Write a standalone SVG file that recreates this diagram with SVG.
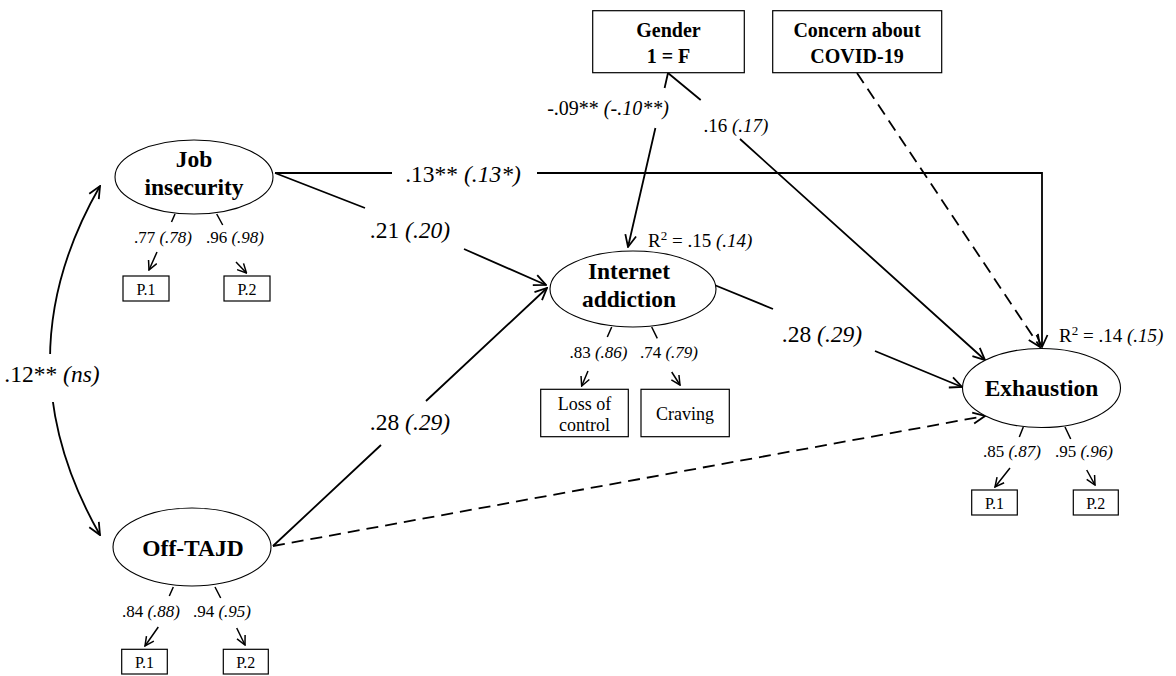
<svg xmlns="http://www.w3.org/2000/svg" width="1176" height="676" viewBox="0 0 1176 676">
<style>
text{font-family:"Liberation Serif","Times New Roman",serif;fill:#000}
.node{font-weight:bold;font-size:23.5px;text-anchor:middle}
.box{font-weight:bold;font-size:20px;text-anchor:middle}
.lab{font-size:23.5px;text-anchor:middle}
.sm{font-size:17px;text-anchor:middle}
.ind{font-size:16px;text-anchor:middle}
.r2{font-size:19px}
.it{font-style:italic}
.el{fill:#fff;stroke:#000;stroke-width:1.1}
.rc{fill:#fff;stroke:#000;stroke-width:1.2}
.c{fill:none;stroke:#000;stroke-width:1.8}
.d{stroke-dasharray:12,7}
.i{fill:none;stroke:#000;stroke-width:1.5}
</style>
<defs>
<marker id="a" markerUnits="userSpaceOnUse" markerWidth="14" markerHeight="14" viewBox="0 0 14 14" refX="13" refY="7" orient="auto-start-reverse">
<path d="M1,1.5 L13,7 L1,12.5" fill="none" stroke="#000" stroke-width="1.8"/>
</marker>
<marker id="s" markerUnits="userSpaceOnUse" markerWidth="11" markerHeight="11" viewBox="0 0 11 11" refX="10" refY="5.5" orient="auto">
<path d="M1,1 L10,5.5 L1,10" fill="none" stroke="#000" stroke-width="1.5"/>
</marker>
</defs>
<rect width="1176" height="676" fill="#fff"/>

<g id="connectors">
<path class="c" d="M100,186 Q0,360 100,535" marker-start="url(#a)" marker-end="url(#a)"/>
<rect x="0" y="354" width="108" height="48" fill="#fff"/>
<path class="c" d="M275,173 H392 M537,173 H1042 V347" marker-end="url(#a)"/>
<path class="c" d="M275,173 L365,208 M464,249 L546,285" marker-end="url(#a)"/>
<path class="c" d="M273,546 L381,445 M426,401 L547,288" marker-end="url(#a)"/>
<path class="c d" d="M273,546 L985,416" marker-end="url(#a)"/>
<path class="c" d="M712,284 L773,309 M875,351 L962,387" marker-end="url(#a)"/>
<path class="c" d="M668,73 L664.6,88 M655.4,128 L628,247" marker-end="url(#a)"/>
<path class="c" d="M668,73 L700.7,100 M740,139 L985,360" marker-end="url(#a)"/>
<path class="c d" d="M857,73 L1040,347" marker-end="url(#a)"/>

<path class="i" d="M175,214 L171.5,222 M157,252 L149,270" marker-end="url(#s)"/>
<path class="i" d="M216.7,214 L222.7,225 M236,262 L246.5,273" marker-end="url(#s)"/>
<path class="i" d="M611.7,327 L607.3,337 M588,371 L581.7,386" marker-end="url(#s)"/>
<path class="i" d="M651.7,327 L657.3,338.3 M671.7,372 L680,385" marker-end="url(#s)"/>
<path class="i" d="M1023.3,427 L1019.3,437 M1010,468 L995,487" marker-end="url(#s)"/>
<path class="i" d="M1065,427 L1070.7,439 M1086.7,470 L1095,485" marker-end="url(#s)"/>
<path class="i" d="M173.3,587 L169.3,596 M158.3,627 L145,646" marker-end="url(#s)"/>
<path class="i" d="M215,587 L220.7,598 M236.7,628 L245,645" marker-end="url(#s)"/>

<text class="lab" x="52" y="382">.12** <tspan class="it">(ns)</tspan></text>
<text class="lab" x="463" y="182">.13** <tspan class="it">(.13*)</tspan></text>
<text class="lab" x="410" y="238">.21 <tspan class="it">(.20)</tspan></text>
<text class="lab" x="410" y="430">.28 <tspan class="it">(.29)</tspan></text>
<text class="lab" x="822" y="342">.28 <tspan class="it">(.29)</tspan></text>
<text class="lab" x="608" y="115" style="font-size:20px">-.09** <tspan class="it">(-.10**)</tspan></text>
<text class="lab" x="736" y="132" style="font-size:19px">.16 <tspan class="it">(.17)</tspan></text>

<text class="sm" x="163" y="243">.77 <tspan class="it">(.78)</tspan></text>
<text class="sm" x="235" y="243">.96 <tspan class="it">(.98)</tspan></text>
<text class="sm" x="598.5" y="358">.83 <tspan class="it">(.86)</tspan></text>
<text class="sm" x="669" y="358">.74 <tspan class="it">(.79)</tspan></text>
<text class="sm" x="1012" y="457">.85 <tspan class="it">(.87)</tspan></text>
<text class="sm" x="1084" y="457">.95 <tspan class="it">(.96)</tspan></text>
<text class="sm" x="151" y="617">.84 <tspan class="it">(.88)</tspan></text>
<text class="sm" x="222" y="617">.94 <tspan class="it">(.95)</tspan></text>

<text class="r2" x="648" y="247">R<tspan font-size="13" dy="-7">2</tspan><tspan dy="7"> = .15 </tspan><tspan class="it">(.14)</tspan></text>
<text class="r2" x="1059" y="342">R<tspan font-size="13" dy="-7">2</tspan><tspan dy="7"> = .14 </tspan><tspan class="it">(.15)</tspan></text>
</g>

<g id="job-insecurity">
<ellipse class="el" cx="194" cy="177" rx="79" ry="37"/>
<text class="node" x="194" y="167">Job</text>
<text class="node" x="194" y="195">insecurity</text>
</g>
<g id="off-tajd">
<ellipse class="el" cx="192" cy="547" rx="79" ry="39"/>
<text class="node" x="193" y="556">Off-TAJD</text>
</g>
<g id="internet-addiction">
<ellipse class="el" cx="633" cy="289" rx="83" ry="38"/>
<text class="node" x="629" y="279">Internet</text>
<text class="node" x="629" y="307">addiction</text>
</g>
<g id="exhaustion">
<ellipse class="el" cx="1041.5" cy="388" rx="79" ry="39.5"/>
<text class="node" x="1041.5" y="396">Exhaustion</text>
</g>
<g id="gender">
<rect class="rc" x="592.7" y="10.7" width="151.6" height="62"/>
<text class="box" x="668.5" y="37">Gender</text>
<text class="box" x="668.5" y="63">1 = F</text>
</g>
<g id="concern-covid">
<rect class="rc" x="772.7" y="10.7" width="169" height="62"/>
<text class="box" x="857" y="37">Concern about</text>
<text class="box" x="857" y="63">COVID-19</text>
</g>
<g id="ji-p1"><rect class="rc" x="123" y="276" width="46" height="25"/><text class="ind" x="146" y="295">P.1</text></g>
<g id="ji-p2"><rect class="rc" x="224" y="276" width="46" height="25"/><text class="ind" x="247" y="295">P.2</text></g>
<g id="off-p1"><rect class="rc" x="121.7" y="649.3" width="45.6" height="24.7"/><text class="ind" x="144.5" y="668">P.1</text></g>
<g id="off-p2"><rect class="rc" x="223.3" y="649.3" width="45" height="24.7"/><text class="ind" x="245.8" y="668">P.2</text></g>
<g id="ex-p1"><rect class="rc" x="971.7" y="490" width="45.6" height="25"/><text class="ind" x="994.5" y="509">P.1</text></g>
<g id="ex-p2"><rect class="rc" x="1073.3" y="490" width="45" height="25"/><text class="ind" x="1095.8" y="509">P.2</text></g>
<g id="loss-of-control"><rect class="rc" x="540.7" y="389.3" width="87.6" height="47.4"/><text class="ind" x="584.5" y="410" style="font-size:18px">Loss of</text><text class="ind" x="584.5" y="431" style="font-size:18px">control</text></g>
<g id="craving"><rect class="rc" x="641" y="389.3" width="88.3" height="47.4"/><text class="ind" x="685" y="420" style="font-size:18px">Craving</text></g>
</svg>
